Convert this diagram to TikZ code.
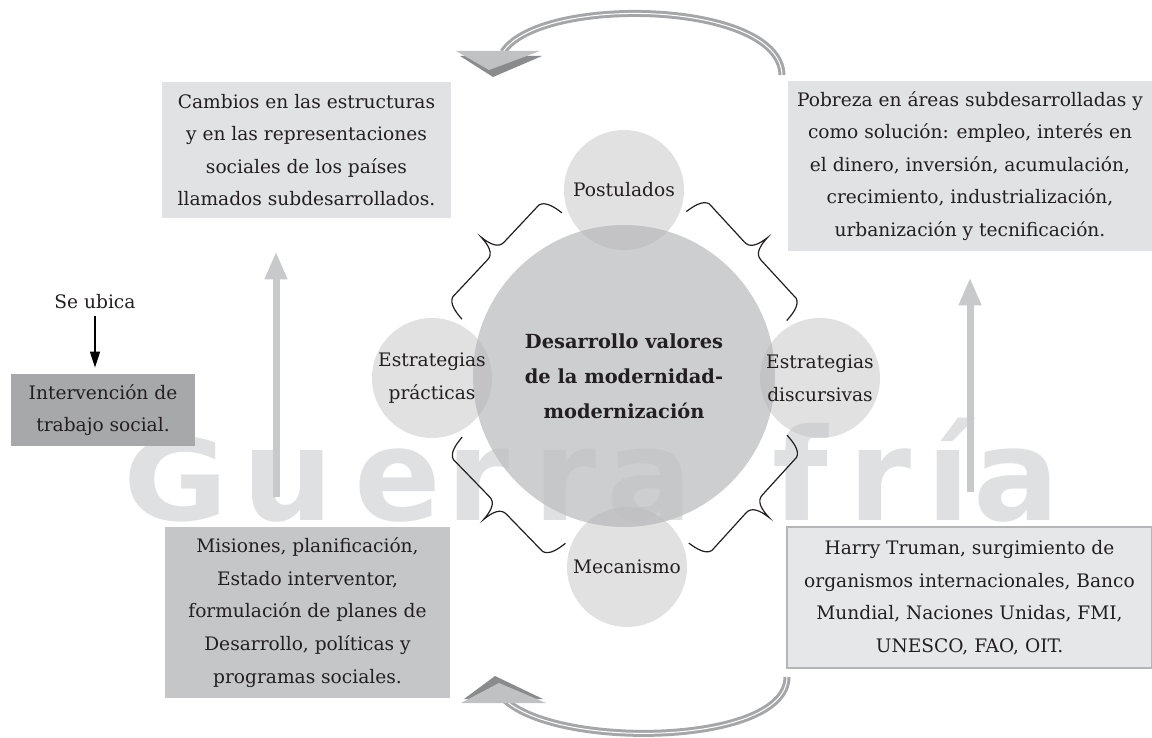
\documentclass[tikz,border=0pt]{standalone}
\usepackage{fontspec}
\setmainfont{DejaVu Serif}
\newfontfamily\wmfont{DejaVu Sans}
\usepackage{tikz}
\usetikzlibrary{arrows.meta,calc}
\definecolor{ink}{RGB}{35,31,32}
\definecolor{lightc}{RGB}{225,226,228}
\definecolor{midc}{RGB}{197,198,200}
\definecolor{darkc}{RGB}{167,168,170}
\definecolor{harryc}{RGB}{230,231,233}
\definecolor{edgec}{RGB}{180,181,183}
\definecolor{corec}{RGB}{205,206,208}
\definecolor{dotc}{RGB}{180,180,182}
\definecolor{arrowc}{RGB}{200,201,203}
\definecolor{ribbonc}{RGB}{165,166,168}
\definecolor{headl}{RGB}{192,193,195}
\definecolor{headd}{RGB}{138,139,141}
\definecolor{wmc}{RGB}{192,193,195}

% curly bracket from #1 to #2, tip on the left of the way
\newcommand\curly[2]{%
 \path let \p1=($(#2)-(#1)$) in \pgfextra{%
  \pgfmathsetmacro\bang{atan2(\y1,\x1)}\pgfmathsetmacro\blen{veclen(\x1,\y1)}%
  \pgfmathsetmacro\bh{\blen/2}\xdef\bang{\bang}\xdef\blen{\blen}\xdef\bh{\bh}};
 \draw[bracel, shift={(#1)}, rotate=\bang, x=1pt, y=1pt]
  (0,0) .. controls (.5,5) and (1.5,10) .. (5,11) -- ({\bh-6},11)
  .. controls ({\bh-2},11) and ({\bh-.5},15) .. (\bh,21)
  .. controls ({\bh+.5},15) and ({\bh+2},11) .. ({\bh+6},11) -- ({\blen-5},11)
  .. controls ({\blen-1.5},10) and ({\blen-.5},5) .. (\blen,0);}

\begin{document}
\begin{tikzpicture}[x=.5pt, y=-.5pt,
  every node/.style={text=ink, align=center, font=\fontsize{9.3}{16.3}\selectfont},
  box/.style={inner sep=0pt},
  bracel/.style={draw=ink, line width=.6pt},
  uparrow/.style={draw=arrowc, line width=3.5pt, -{Triangle[width=10.5pt,length=14pt]}},
  ribbon/.style={draw=ribbonc, line width=1.5pt, double=white, double distance=.5pt},
  wm/.style={font=\wmfont\bfseries\fontsize{64}{64}\selectfont, text=wmc, text opacity=.5, anchor=base, inner sep=0pt}]
 \useasboundingbox (0,0) rectangle (1152,738);
 % circles
 \node[circle, fill=corec, minimum size=151pt, inner sep=0pt,
   font=\bfseries\fontsize{9.7}{17.5}\selectfont] (core) at (624,376)
   {Desarrollo valores\\ de la modernidad-\\ modernización};
 \begin{scope}[every node/.style={circle, fill=dotc, fill opacity=.4, text opacity=1, text=ink,
   minimum size=60pt, inner sep=0pt, outer sep=3pt, align=center, font=\fontsize{9.3}{16.3}\selectfont}]
  \node (post) at (624,190) {Postulados};
  \node (pract) at (432,378) {Estrategias\\ prácticas};
  \node (disc) at (820,378) {Estrategias\\ discursivas};
  \node (mec) at (627,567) {Mecanismo};
 \end{scope}
 % watermark
 \node[wm, transform shape, yscale=.88] (wmG) at (176,520) {G};
 \foreach \x/\l in {288/u, 398/e, 478/r, 565/r, 650/a, 800/f, 880/r, 948/í, 1017/a}
  \node[wm] (wm\x) at (\x,520) {\l};
 % braces
 \curly{pract.63}{post.200}
 \curly{post.341}{disc.120}
 \curly{disc.240}{mec.21}
 \curly{mec.159}{pract.297}
 % boxes
 \node[box, fill=lightc, minimum width=144.5pt, minimum height=68pt] (cambios) at (306.5,150)
  {Cambios en las estructuras\\ y en las representaciones\\ sociales de los países\\ llamados subdesarrollados.};
 \node[box, fill=lightc, minimum width=182pt, minimum height=85pt] (pobreza) at (970,166)
  {Pobreza en áreas subdesarrolladas y\\ como solución: empleo, interés en\\ el dinero, inversión, acumulación,\\ crecimiento, industrialización,\\ urbanización y tecnificación.};
 \node[box, fill=darkc, minimum width=92pt, minimum height=36pt] (interv) at (103,410)
  {Intervención de\\ trabajo social.};
 \node[box, fill=midc, minimum width=142.5pt, minimum height=85.5pt] (misiones) at (307.5,612.5)
  {Misiones, planificación,\\ Estado interventor,\\ formulación de planes de\\ Desarrollo, políticas y\\ programas sociales.};
 \node[box, fill=harryc, draw=edgec, line width=.6pt, minimum width=182.5pt, minimum height=70.5pt] (harry) at (969.5,597.5)
  {Harry Truman, surgimiento de\\ organismos internacionales, Banco\\ Mundial, Naciones Unidas, FMI,\\ UNESCO, FAO, OIT.};
 \node (ubica) at (95,302) {Se ubica};
 \draw[line width=.7pt, -{Triangle[width=5pt,length=8pt]}, shorten >=3pt] (ubica.south) -- (ubica.south |- interv.north);
 % vertical arrows
 \coordinate (lcol) at (276,0);
 \coordinate (rcol) at (970,0);
 \draw[uparrow, shorten <=15pt, shorten >=16.5pt] (misiones.north -| lcol) -- (cambios.south -| lcol);
 \draw[uparrow, shorten <=17pt, shorten >=13pt] (harry.north -| rcol) -- (pobreza.south -| rcol);
 % curved arrows
 \coordinate (ttail) at (782,75);
 \coordinate (thead) at (503,52);
 \draw[ribbon] (ttail) .. controls (780,0) and (540,-5) .. (thead);
 \fill[headd] (460,56) -- (542,56) -- (493,77) -- cycle;
 \fill[headl] (456,51) -- (540,51) -- (489,70) -- cycle;
 \coordinate (btail) at (787,677);
 \coordinate (bhead) at (505,700);
 \draw[ribbon] (btail) .. controls (787,745) and (560,750) .. (bhead);
 \fill[headd] (464,699) -- (543,699) -- (495,676) -- cycle;
 \fill[headl] (461,703) -- (546,703) -- (499,683) -- cycle;
\end{tikzpicture}
\end{document}
